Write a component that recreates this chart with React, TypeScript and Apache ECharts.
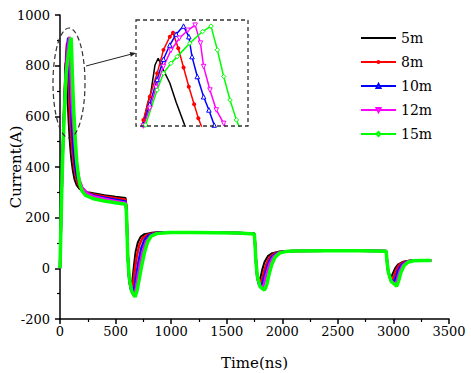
import React, { useEffect, useRef } from "react";
import * as echarts from "echarts";

const seriesNames = ["5m", "8m", "10m", "12m", "15m"];
const xTicks = [0, 500, 1000, 1500, 2000, 2500, 3000, 3500];
const yTicks = [-200, 0, 200, 400, 600, 800, 1000];

const current5m: number[][] = [
  [0, 0], [8, 160], [16, 320], [24, 450], [30, 530], [36, 610], [40, 670], [43, 703], [47, 790], [50, 811],
  [55, 774], [61, 734], [67, 674], [75, 603], [82, 545], [90, 490], [100, 438], [115, 388], [130, 352],
  [150, 328], [175, 314], [200, 306], [250, 300], [300, 296], [400, 289], [500, 283], [590, 278],
  [598, 240], [604, 150], [610, 60], [618, -15], [628, -55], [640, -68], [652, -45], [665, 10], [680, 65],
  [700, 102], [725, 124], [760, 135], [820, 140], [900, 142], [1000, 143], [1200, 142], [1400, 141],
  [1600, 140], [1748, 138], [1755, 100], [1762, 40], [1770, -10], [1780, -40], [1792, -50], [1805, -35],
  [1820, -5], [1840, 25], [1870, 48], [1910, 60], [1970, 66], [2100, 68], [2400, 69], [2700, 69],
  [2935, 68], [2942, 30], [2952, -8], [2965, -28], [2980, -35], [2995, -20], [3015, 0], [3040, 15],
  [3080, 25], [3140, 30], [3250, 31], [3340, 31],
];

const current8m: number[][] = [
  [0, 0], [8, 160], [16, 320], [24, 450], [30, 530], [36, 619], [42, 691], [49, 764], [55, 837], [61, 878],
  [64, 890], [69, 842], [74, 782], [79, 722], [84, 668], [88, 624], [92, 590], [100, 530], [115, 445],
  [130, 390], [150, 348], [175, 322], [200, 305], [250, 298], [300, 292], [400, 284], [500, 277], [590, 271],
  [598, 235], [604, 145], [610, 55], [618, -20], [630, -65], [645, -85], [658, -60], [672, -10], [690, 45],
  [712, 90], [740, 118], [780, 132], [840, 139], [900, 141], [1000, 142], [1200, 142], [1400, 141],
  [1600, 139], [1748, 137], [1755, 98], [1762, 38], [1770, -15], [1782, -50], [1798, -63], [1815, -45],
  [1835, -12], [1860, 22], [1890, 46], [1935, 60], [2000, 66], [2100, 68], [2400, 69], [2700, 69],
  [2935, 68], [2942, 30], [2952, -10], [2968, -35], [2992, -45], [3008, -28], [3028, -3], [3055, 15],
  [3095, 25], [3150, 30], [3250, 31], [3340, 31],
];

const current10m: number[][] = [
  [0, 0], [8, 158], [16, 315], [24, 445], [30, 525], [36, 605], [42, 668], [49, 745], [55, 808], [61, 852],
  [67, 886], [74, 911], [79, 878], [82, 816], [87, 754], [93, 691], [98, 650], [103, 603], [110, 545],
  [120, 480], [135, 410], [150, 370], [175, 332], [200, 312], [250, 296], [300, 288], [400, 279],
  [500, 271], [590, 264], [598, 230], [604, 140], [610, 50], [620, -30], [635, -80], [655, -100],
  [670, -75], [688, -25], [708, 30], [732, 80], [760, 112], [800, 131], [860, 139], [950, 142],
  [1000, 142], [1200, 142], [1400, 141], [1600, 139], [1748, 137], [1755, 96], [1762, 36], [1772, -20],
  [1786, -58], [1806, -73], [1825, -55], [1848, -18], [1875, 20], [1905, 45], [1950, 60], [2010, 66],
  [2100, 68], [2400, 69], [2700, 69], [2935, 68], [2942, 29], [2953, -12], [2972, -42], [3005, -55],
  [3022, -35], [3042, -8], [3070, 13], [3110, 25], [3160, 30], [3250, 31], [3340, 31],
];

const current12m: number[][] = [
  [0, 0], [8, 156], [16, 312], [24, 440], [30, 520], [36, 600], [42, 655], [48, 720], [55, 785], [62, 835],
  [70, 873], [78, 898], [85, 914], [90, 858], [93, 785], [99, 712], [105, 650], [112, 608], [120, 560],
  [135, 470], [150, 410], [175, 350], [200, 320], [250, 295], [300, 285], [400, 275], [500, 266],
  [590, 259], [598, 225], [604, 135], [610, 45], [622, -35], [640, -85], [662, -108], [678, -85],
  [698, -35], [720, 20], [745, 70], [775, 108], [815, 129], [870, 138], [950, 141], [1000, 142],
  [1200, 142], [1400, 141], [1600, 139], [1748, 136], [1755, 95], [1762, 34], [1773, -25], [1790, -65],
  [1815, -80], [1835, -62], [1858, -22], [1885, 18], [1918, 45], [1960, 60], [2020, 66], [2100, 68],
  [2400, 69], [2700, 69], [2935, 67], [2942, 28], [2954, -14], [2976, -48], [3018, -63], [3035, -42],
  [3055, -12], [3082, 12], [3120, 25], [3170, 30], [3250, 31], [3340, 31],
];

const current15m: number[][] = [
  [0, 0], [8, 155], [16, 310], [24, 435], [30, 515], [38, 603], [49, 712], [55, 764], [62, 795], [68, 816],
  [80, 858], [92, 894], [100, 911], [106, 837], [112, 754], [118, 681], [124, 619], [130, 570], [140, 490],
  [150, 425], [165, 365], [180, 330], [200, 305], [230, 288], [300, 275], [400, 266], [500, 259],
  [590, 253], [598, 220], [604, 130], [610, 40], [624, -40], [645, -90], [675, -113], [692, -90],
  [712, -45], [735, 10], [760, 62], [788, 104], [820, 127], [870, 137], [950, 140], [1000, 141],
  [1200, 141], [1400, 140], [1600, 139], [1748, 136], [1755, 94], [1762, 32], [1775, -30], [1800, -72],
  [1840, -86], [1860, -65], [1880, -25], [1905, 15], [1935, 44], [1975, 60], [2030, 66], [2100, 68],
  [2400, 69], [2700, 69], [2935, 67], [2942, 27], [2955, -16], [2980, -52], [3030, -70], [3048, -48],
  [3068, -15], [3095, 10], [3130, 24], [3180, 30], [3250, 31], [3340, 31],
];

const seriesData = [current5m, current8m, current10m, current12m, current15m];

const FONT = "DejaVu Serif";
const colors = ["#000000", "#ff0000", "#0000ff", "#ff00ff", "#00ff00"];
const symbols = ["none", "circle", "triangle", "triangle", "diamond"];
const symbolRot = [0, 0, 0, 180, 0];
const hollow = [false, false, true, true, true];
const mainWidths = [2, 2.5, 2.5, 2.5, 3.5];

function buildSeries(axisIndex: number) {
  const inset = axisIndex === 1;
  return seriesNames.map((name, i) => ({
    name,
    type: "line",
    xAxisIndex: axisIndex,
    yAxisIndex: axisIndex,
    data: seriesData[i],
    symbol: symbols[i] === "none" ? "circle" : symbols[i],
    showSymbol: inset && symbols[i] !== "none",
    symbolSize: i === 1 ? 4 : 4.5,
    symbolRotate: symbolRot[i],
    clip: true,
    lineStyle: { color: colors[i], width: inset ? 1.5 : mainWidths[i] },
    itemStyle: hollow[i]
      ? { color: "#ffffff", borderColor: colors[i], borderWidth: 1 }
      : { color: colors[i] },
    emphasis: { disabled: true },
  }));
}

export default function App() {
  const ref = useRef<HTMLDivElement>(null);
  useEffect(() => {
    if (!ref.current) return;
    const chart = echarts.init(ref.current, undefined, { renderer: "svg" });
    const axisLabel = {
      color: "#000",
      fontSize: 13,
      fontFamily: FONT,
      formatter: (v: number) => String(v),
    };
    const legendData = seriesNames.map((name, i) =>
      i === 0 ? { name, itemStyle: { opacity: 0 } } : { name }
    );
    const option: any = {
      animation: false,
      backgroundColor: "#ffffff",
      textStyle: { fontFamily: FONT },
      legend: {
        data: legendData,
        orient: "vertical",
        left: 355,
        top: 25,
        itemWidth: 35,
        itemHeight: 5,
        itemGap: 8,
        textStyle: { color: "#000", fontSize: 14, fontFamily: FONT, lineHeight: 16 },
      },
      grid: [
        { left: 60, right: 22, top: 15, bottom: 54, outerBoundsMode: "none", containLabel: false },
        { left: 136, top: 20, width: 112, height: 106, outerBoundsMode: "none", containLabel: false },
      ],
      xAxis: [
        {
          type: "value",
          min: xTicks[0],
          max: xTicks[xTicks.length - 1],
          interval: 500,
          name: "Time(ns)",
          nameLocation: "middle",
          nameGap: 36,
          nameMoveOverlap: false,
          nameTextStyle: { color: "#000", fontSize: 15, fontFamily: FONT },
          axisLine: { onZero: false, lineStyle: { color: "#000", width: 1.5 } },
          axisTick: { show: true, inside: false, length: 5, lineStyle: { color: "#000", width: 1.5 } },
          minorTick: { show: true, splitNumber: 2, length: 3, lineStyle: { color: "#000", width: 1.2 } },
          splitLine: { show: false },
          axisLabel: { ...axisLabel, margin: 6 },
        },
        { type: "value", gridIndex: 1, min: 29, max: 135, show: false },
      ],
      yAxis: [
        {
          type: "value",
          min: yTicks[0],
          max: yTicks[yTicks.length - 1],
          interval: 200,
          name: "Current(A)",
          nameLocation: "middle",
          nameGap: 37,
          nameMoveOverlap: false,
          nameTextStyle: { color: "#000", fontSize: 15, fontFamily: FONT },
          axisLine: { show: true, onZero: false, lineStyle: { color: "#000", width: 1.5 } },
          axisTick: { show: true, inside: false, length: 5, lineStyle: { color: "#000", width: 1.5 } },
          minorTick: { show: true, splitNumber: 2, length: 3, lineStyle: { color: "#000", width: 1.2 } },
          splitLine: { show: false },
          axisLabel: { ...axisLabel, margin: 10 },
        },
        { type: "value", gridIndex: 1, min: 600, max: 930, show: false },
      ],
      series: [...buildSeries(0), ...buildSeries(1)],
      graphic: [
        {
          type: "rect",
          shape: { x: 136, y: 20, width: 112, height: 106 },
          style: { fill: "none", stroke: "#333", lineWidth: 1.3, lineDash: [4, 3] },
          z: 100,
        },
        {
          type: "ellipse",
          shape: { cx: 69, cy: 83, rx: 16, ry: 55 },
          style: { fill: "none", stroke: "#333", lineWidth: 1.2, lineDash: [5, 3] },
          z: 100,
        },
        {
          type: "line",
          shape: { x1: 86, y1: 66, x2: 131, y2: 54.2 },
          style: { stroke: "#222", lineWidth: 1 },
          z: 100,
        },
        {
          type: "polygon",
          shape: { points: [[136, 53], [129.6, 51.9], [130.8, 56.7]] },
          style: { fill: "#222" },
          z: 100,
        },
      ],
    };
    chart.setOption(option);
    return () => chart.dispose();
  }, []);
  return (
    <div
      ref={ref}
      style={{ position: "fixed", left: 0, top: 0, width: 471, height: 373, background: "#fff" }}
    />
  );
}
